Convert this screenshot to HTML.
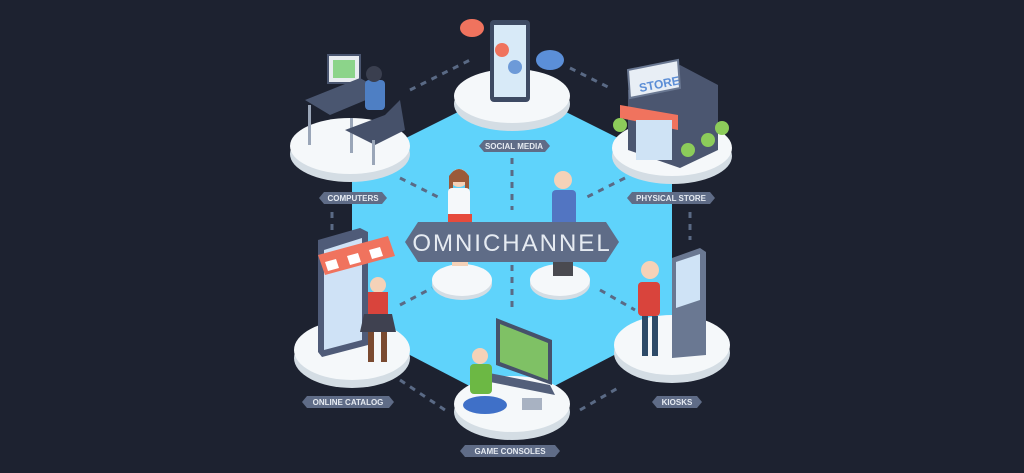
<!DOCTYPE html>
<html><head><style>
html,body{margin:0;padding:0;background:#1d2230;}
svg{display:block}
text{font-family:"Liberation Sans",sans-serif;font-weight:bold;fill:#e6ebf2}
</style></head><body>
<svg width="1024" height="473" viewBox="0 0 1024 473">
<rect width="1024" height="473" fill="#1d2230"/>
<polygon points="512,85 672,165 672,325 512,408 352,325 352,165" fill="#5fd3fb"/>
<g stroke="#5a6a85" stroke-width="3" stroke-dasharray="6,6" fill="none">
<line x1="410" y1="90" x2="470" y2="60"/>
<line x1="570" y1="68" x2="610" y2="88"/>
<line x1="512" y1="158" x2="512" y2="210"/>
<line x1="400" y1="178" x2="440" y2="198"/>
<line x1="625" y1="178" x2="585" y2="198"/>
<line x1="332" y1="212" x2="332" y2="232"/>
<line x1="690" y1="212" x2="690" y2="240"/>
<line x1="400" y1="305" x2="432" y2="288"/>
<line x1="600" y1="290" x2="635" y2="310"/>
<line x1="512" y1="265" x2="512" y2="310"/>
<line x1="400" y1="380" x2="445" y2="410"/>
<line x1="580" y1="410" x2="618" y2="388"/>
</g>
<g>
<ellipse cx="350" cy="154" rx="60" ry="28" fill="#d4dde4"/><ellipse cx="350" cy="146" rx="60" ry="28" fill="#f5f8fa"/>
<ellipse cx="512" cy="104" rx="58" ry="27" fill="#d4dde4"/><ellipse cx="512" cy="96" rx="58" ry="27" fill="#f5f8fa"/>
<ellipse cx="672" cy="156" rx="60" ry="28" fill="#d4dde4"/><ellipse cx="672" cy="148" rx="60" ry="28" fill="#f5f8fa"/>
<ellipse cx="352" cy="358" rx="58" ry="30" fill="#d4dde4"/><ellipse cx="352" cy="350" rx="58" ry="30" fill="#f5f8fa"/>
<ellipse cx="512" cy="412" rx="58" ry="28" fill="#d4dde4"/><ellipse cx="512" cy="404" rx="58" ry="28" fill="#f5f8fa"/>
<ellipse cx="672" cy="353" rx="58" ry="30" fill="#d4dde4"/><ellipse cx="672" cy="345" rx="58" ry="30" fill="#f5f8fa"/>
<ellipse cx="462" cy="284" rx="30" ry="16" fill="#d4dde4"/><ellipse cx="462" cy="280" rx="30" ry="16" fill="#f5f8fa"/>
<ellipse cx="560" cy="284" rx="30" ry="16" fill="#d4dde4"/><ellipse cx="560" cy="280" rx="30" ry="16" fill="#f5f8fa"/>
</g>
<!-- phone -->
<rect x="490" y="20" width="40" height="82" rx="4" fill="#3d4a63"/><rect x="494" y="25" width="32" height="72" fill="#d8eaf8"/>
<circle cx="502" cy="50" r="7" fill="#f0735e"/><circle cx="515" cy="67" r="7" fill="#6d9ad8"/>
<ellipse cx="472" cy="28" rx="12" ry="9" fill="#f0735e"/><ellipse cx="550" cy="60" rx="14" ry="10" fill="#5b8fd8"/>
<!-- computer desk -->
<rect x="328" y="55" width="32" height="28" fill="#e8ecf0" stroke="#4a5670" stroke-width="2"/><rect x="333" y="60" width="22" height="18" fill="#8cd48a"/>
<polygon points="305,100 360,78 385,92 330,115" fill="#4a5670"/>
<rect x="308" y="105" width="3" height="40" fill="#9aa6b8"/><rect x="350" y="118" width="3" height="35" fill="#9aa6b8"/>
<rect x="365" y="80" width="20" height="30" rx="4" fill="#4e7fc4"/><circle cx="374" cy="74" r="8" fill="#3a3f4f"/>
<polygon points="345,130 385,115 400,100 405,130 375,145" fill="#46516a"/>
<rect x="372" y="140" width="3" height="25" fill="#9aa6b8"/>
<!-- store -->
<polygon points="628,90 680,65 718,85 718,150 680,168 628,150" fill="#4b5670"/>
<polygon points="628,70 678,60 680,88 630,98" fill="#e8eef5" stroke="#6a7892" stroke-width="2"/>
<text x="638" y="89" font-size="12" style="fill:#5c8ed6" transform="rotate(-11 655 80)">STORE</text>
<polygon points="620,105 678,115 678,130 620,118" fill="#f0735e"/>
<rect x="636" y="120" width="36" height="40" fill="#cfe3f5"/>
<circle cx="620" cy="125" r="7" fill="#8ccc5a"/><circle cx="688" cy="150" r="7" fill="#8ccc5a"/><circle cx="708" cy="140" r="7" fill="#8ccc5a"/><circle cx="722" cy="128" r="7" fill="#8ccc5a"/>
<!-- people center -->
<circle cx="459" cy="178" r="9" fill="#f5d2b8"/><path d="M449,176 q10,-14 20,0 v20 h-4 v-14 h-12 v14 h-4z" fill="#9a5a3a"/>
<rect x="448" y="188" width="22" height="32" rx="4" fill="#f5f8fa"/><rect x="452" y="218" width="16" height="48" fill="#f5d2b8"/>
<rect x="448" y="214" width="24" height="10" fill="#e64b3c"/>
<circle cx="563" cy="180" r="9" fill="#f5d2b8"/><rect x="552" y="190" width="24" height="36" rx="4" fill="#5275c2"/>
<rect x="553" y="226" width="20" height="50" fill="#4a4a50"/>
<!-- label omnichannel -->
<polygon points="405,242 418,222 606,222 619,242 606,262 418,262" fill="#5f6c87"/>
<text x="512" y="251" font-size="24" text-anchor="middle" style="letter-spacing:2px;font-weight:normal">OMNICHANNEL</text>
<!-- catalog -->
<polygon points="318,240 360,228 368,232 368,345 322,357 318,352" fill="#4f5b78"/><polygon points="324,250 362,238 362,340 324,350" fill="#cfe2f6"/>
<polygon points="318,255 388,236 395,256 325,275" fill="#f0735e"/>
<polygon points="325,262 336,259 339,268 328,271" fill="#fff"/><polygon points="347,256 358,253 361,262 350,265" fill="#fff"/><polygon points="369,250 380,247 383,256 372,259" fill="#fff"/>
<circle cx="378" cy="285" r="8" fill="#f5d2b8"/><rect x="368" y="292" width="20" height="22" fill="#d9443c"/><polygon points="364,314 392,314 396,332 360,332" fill="#3f4150"/>
<rect x="368" y="332" width="6" height="30" fill="#7a4a30"/><rect x="381" y="332" width="6" height="30" fill="#7a4a30"/>
<!-- game -->
<polygon points="496,318 552,340 552,385 496,365" fill="#46516a"/><polygon points="500,324 548,343 548,380 500,362" fill="#7fc165"/>
<polygon points="484,372 550,385 555,395 490,382" fill="#535f7a"/>
<ellipse cx="485" cy="405" rx="22" ry="9" fill="#3f70c8"/>
<circle cx="480" cy="356" r="8" fill="#f5d2b8"/><rect x="470" y="364" width="22" height="30" rx="4" fill="#6cb844"/>
<rect x="522" y="398" width="20" height="12" fill="#a8b2c2"/>
<!-- kiosk -->
<polygon points="672,258 700,248 706,252 706,355 672,358" fill="#6a7892"/><polygon points="676,262 700,254 700,300 676,308" fill="#cfe3f6"/>
<circle cx="650" cy="270" r="9" fill="#f5d2b8"/><rect x="638" y="282" width="22" height="34" rx="4" fill="#d9443c"/>
<rect x="642" y="316" width="6" height="40" fill="#2d4a68"/><rect x="652" y="316" width="6" height="40" fill="#2d4a68"/>
<!-- labels -->
<g fill="#5f6c87">
<polygon points="479,146 484,140 545,140 550,146 545,152 484,152"/>
<polygon points="319,198 324,192 382,192 387,198 382,204 324,204"/>
<polygon points="627,198 632,192 710,192 715,198 710,204 632,204"/>
<polygon points="302,402 307,396 389,396 394,402 389,408 307,408"/>
<polygon points="652,402 657,396 697,396 702,402 697,408 657,408"/>
<polygon points="460,451 465,445 555,445 560,451 555,457 465,457"/>
</g>
<g font-size="8" text-anchor="middle">
<text x="514" y="149">SOCIAL MEDIA</text>
<text x="353" y="201">COMPUTERS</text>
<text x="671" y="201">PHYSICAL STORE</text>
<text x="348" y="405">ONLINE CATALOG</text>
<text x="677" y="405">KIOSKS</text>
<text x="510" y="454">GAME CONSOLES</text>
</g>
</svg>
</body></html>
